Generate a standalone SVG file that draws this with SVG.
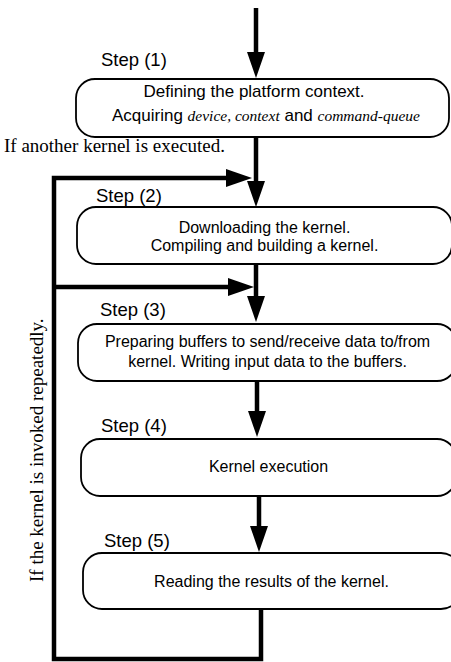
<svg xmlns="http://www.w3.org/2000/svg" width="451" height="662" viewBox="0 0 451 662">
  <defs>
    <marker id="head" markerUnits="userSpaceOnUse" markerWidth="27" markerHeight="18" refX="0" refY="9" orient="auto">
      <path d="M0,0 L26,9 L0,18 z" fill="#000"/>
    </marker>
    <style>
      .box { fill: #fff; stroke: #000; stroke-width: 1.8; }
      .wire { fill: none; stroke: #000; stroke-width: 4.5; stroke-linejoin: miter; stroke-linecap: butt; }
      .step { font-family: "Liberation Sans", Arial, sans-serif; font-size: 18.5px; fill: #000; }
      .body { font-family: "Liberation Sans", Arial, sans-serif; font-size: 16px; fill: #000; text-anchor: middle; }
      .em { font-family: "Liberation Serif", "Times New Roman", serif; font-style: italic; font-size: 15.5px; }
      .note { font-family: "Liberation Serif", "Times New Roman", serif; font-size: 19px; fill: #000; }
    </style>
  </defs>

  <rect width="451" height="662" fill="#fff"/>

  <!-- connectors -->
  <g id="connectors">
    <line class="wire" x1="256" y1="8" x2="256" y2="52" marker-end="url(#head)"/>
    <line class="wire" x1="256" y1="137" x2="256" y2="181" marker-end="url(#head)"/>
    <line class="wire" x1="256" y1="264" x2="256" y2="296" marker-end="url(#head)"/>
    <line class="wire" x1="257" y1="381" x2="257" y2="411" marker-end="url(#head)"/>
    <line class="wire" x1="259" y1="496" x2="259" y2="526" marker-end="url(#head)"/>
    <!-- feedback loop from the last step back to step (2) -->
    <path class="wire" d="M261,609 V659 H54 V178 H226" marker-end="url(#head)"/>
    <!-- branch back to step (3) -->
    <line class="wire" x1="54" y1="287" x2="228" y2="287" marker-end="url(#head)"/>
  </g>

  <!-- step 1 -->
  <g id="step1">
    <text class="step" x="101" y="66">Step (1)</text>
    <rect class="box" x="76" y="79" width="373" height="58" rx="19" ry="19"/>
    <text class="body" x="254" y="97" style="font-size:17px">Defining the platform context.</text>
    <text class="body" x="112" y="121" style="font-size:17px;text-anchor:start">Acquiring <tspan class="em">device</tspan><tspan class="em" font-style="normal">, </tspan><tspan class="em">context</tspan> and <tspan class="em">command-queue</tspan></text>
  </g>

  <!-- note for re-running with another kernel -->
  <text id="note-another" class="note" x="4" y="152">If another kernel is executed.</text>

  <!-- step 2 -->
  <g id="step2">
    <text class="step" x="96" y="202">Step (2)</text>
    <rect class="box" x="77" y="207" width="375" height="57" rx="19" ry="19"/>
    <text class="body" x="264.5" y="233">Downloading the kernel.</text>
    <text class="body" x="264.5" y="251">Compiling and building a kernel.</text>
  </g>

  <!-- step 3 -->
  <g id="step3">
    <text class="step" x="100" y="316">Step (3)</text>
    <rect class="box" x="78" y="324" width="378" height="57" rx="19" ry="19"/>
    <text class="body" x="267.5" y="347">Preparing buffers to send/receive data to/from</text>
    <text class="body" x="267.5" y="367">kernel. Writing input data to the buffers.</text>
  </g>

  <!-- step 4 -->
  <g id="step4">
    <text class="step" x="101" y="432">Step (4)</text>
    <rect class="box" x="81" y="439" width="375" height="57" rx="19" ry="19"/>
    <text class="body" x="268.5" y="472">Kernel execution</text>
  </g>

  <!-- step 5 -->
  <g id="step5">
    <text class="step" x="104" y="547">Step (5)</text>
    <rect class="box" x="83" y="553" width="377" height="56" rx="19" ry="19"/>
    <text class="body" x="271.5" y="587">Reading the results of the kernel.</text>
  </g>

  <!-- loop note, written along the left return line -->
  <text id="note-repeat" class="note" transform="translate(43,582) rotate(-90)">If the kernel is invoked repeatedly.</text>
</svg>
